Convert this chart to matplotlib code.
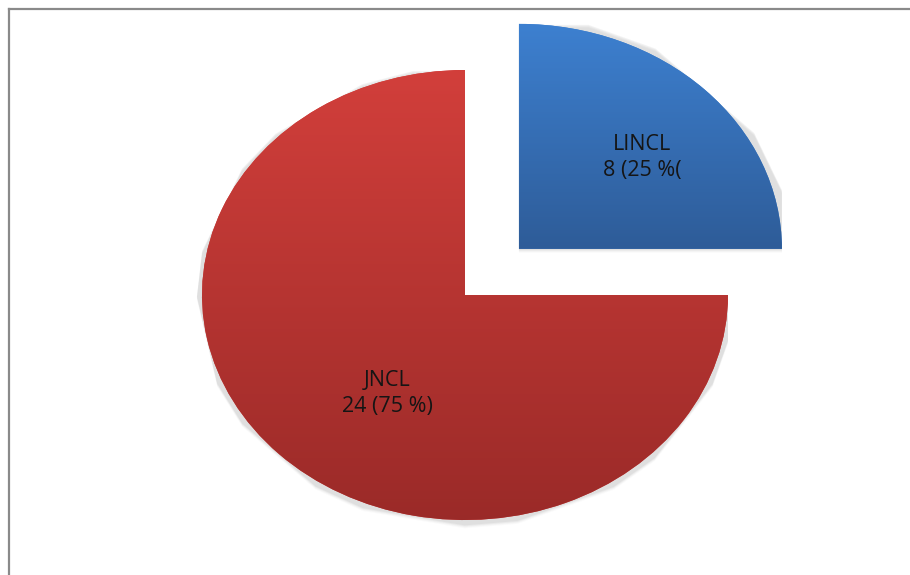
import numpy as np
import matplotlib.pyplot as plt
import matplotlib.transforms as mtransforms
from matplotlib.colors import LinearSegmentedColormap

# case counts per subtype
categories = ['LINCL', 'JNCL']
counts = [8, 24]
pct_text = ['8 (25 %(', '24 (75 %)']
explode = [0.29, 0.0]

# top/bottom gradient colours for each slice
grad_colors = [('#3d80d0', '#2e5c98'), ('#d23f3b', '#9a2a28')]

W, H, DPI = 910, 575, 100
fig = plt.figure(figsize=(W / DPI, H / DPI), dpi=DPI)
ax = fig.add_axes([0, 0, 1, 1])

# pie centre and radii in pixels (elliptical pie)
cx, cy = 465, 295
rx, ry = 263, 225

wedges, _ = ax.pie(counts, explode=explode, startangle=90, counterclock=False,
                   radius=1.0, center=(0, 0), frame=True,
                   wedgeprops=dict(linewidth=0))
ax.set_aspect('auto')
ax.set_xlim(-cx / rx, (W - cx) / rx)
ax.set_ylim(-(H - cy) / ry, cy / ry)
ax.axis('off')

# soft drop shadow under each wedge
for w in wedges:
    verts = w.get_path().vertices
    for k, a in [(4, 0.025), (3, 0.035), (2, 0.05), (1, 0.06)]:
        tr = mtransforms.offset_copy(ax.transData, fig=fig, x=0, y=-k, units='dots')
        sh = plt.Polygon(verts, closed=True, transform=tr, facecolor='#404040',
                         edgecolor='none', alpha=a, zorder=0.5)
        ax.add_patch(sh)
    w.set_zorder(1)

# vertical gradient fill clipped to each wedge
for w, (ctop, cbot) in zip(wedges, grad_colors):
    verts = w.get_path().vertices
    x0, y0 = verts.min(axis=0)
    x1, y1 = verts.max(axis=0)
    cmap = LinearSegmentedColormap.from_list('g', [cbot, ctop])
    grad = np.linspace(0, 1, 256).reshape(-1, 1)
    im = ax.imshow(grad, cmap=cmap, extent=(x0, x1, y0, y1), origin='lower',
                   aspect='auto', interpolation='bilinear', zorder=2)
    im.set_clip_path(w)
    w.set_facecolor(ctop)

ax.set_aspect('auto')
ax.set_xlim(-cx / rx, (W - cx) / rx)
ax.set_ylim(-(H - cy) / ry, cy / ry)

# slice labels: angle of label (deg) and radial fraction
label_pos = [(41, 0.62), (236, 0.53)]
for i, (name, txt) in enumerate(zip(categories, pct_text)):
    ang, r = label_pos[i]
    mid = np.deg2rad(90 - (sum(counts[:i]) + counts[i] / 2) / sum(counts) * 360)
    ex = explode[i]
    tx = ex * np.cos(mid) + r * np.cos(np.deg2rad(ang))
    ty = ex * np.sin(mid) + r * np.sin(np.deg2rad(ang))
    ax.text(tx, ty, f'{name}\n{txt}', ha='center', va='center', fontsize=15.5,
            family=['Open Sans', 'DejaVu Sans'], color='#151515', linespacing=1.3, zorder=5)

# outer frame (top and left edges)
fig.add_artist(plt.Line2D([8.5 / W, 1], [1 - 8.5 / H, 1 - 8.5 / H],
                          transform=fig.transFigure, color='#8a8a8a', lw=1.6))
fig.add_artist(plt.Line2D([8.5 / W, 8.5 / W], [0, 1 - 8.5 / H],
                          transform=fig.transFigure, color='#8a8a8a', lw=1.6))

fig.savefig('out.png', dpi=DPI, facecolor='white')
